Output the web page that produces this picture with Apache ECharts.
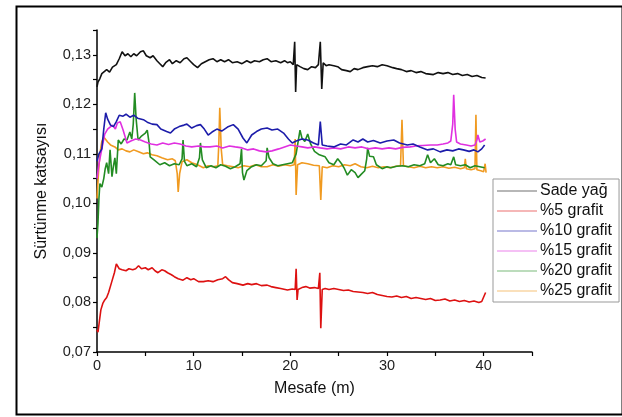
<!DOCTYPE html>
<html><head><meta charset="utf-8">
<script src="https://cdn.jsdelivr.net/npm/echarts@6/dist/echarts.min.js"></script>
<style>html,body{margin:0;padding:0;background:#fff}#c{width:622px;height:417px}</style>
</head><body><div id="c"></div>
<script>
const seriesNames = ['Sade yağ', '%5 grafit', '%10 grafit', '%15 grafit', '%20 grafit', '%25 grafit'];
const yTicks = [0.07, 0.08, 0.09, 0.10, 0.11, 0.12, 0.13];
const xTicks = [0, 10, 20, 30, 40];

const sadeYag = [[0,0.1235],[0.1,0.1245],[0.3,0.1252],[0.5,0.1262],[0.7,0.1258],[1,0.127],[1.3,0.1265],[1.6,0.1275],[2,0.128],[2.3,0.1292],[2.6,0.1306],[2.9,0.1298],[3.2,0.1302],[3.5,0.1296],[3.8,0.1302],[4.1,0.1298],[4.5,0.1306],[4.8,0.1308],[5.1,0.1298],[5.5,0.1294],[5.8,0.1298],[6.2,0.1288],[6.5,0.1282],[6.8,0.1276],[7.1,0.1284],[7.5,0.1290],[7.8,0.1282],[8.2,0.1288],[8.6,0.1284],[9,0.1292],[9.3,0.1294],[9.7,0.1286],[10,0.1280],[10.4,0.1274],[10.8,0.1282],[11.2,0.1286],[11.6,0.1290],[12,0.1292],[12.4,0.1286],[12.8,0.1290],[13.2,0.1286],[13.6,0.1290],[14,0.1284],[14.5,0.1286],[15,0.1282],[15.5,0.1288],[15.9,0.1284],[16.3,0.1288],[16.8,0.1286],[17.2,0.1290],[17.6,0.1292],[18,0.1286],[18.5,0.1288],[19,0.1284],[19.4,0.1288],[19.7,0.1284],[20,0.1286],[20.3,0.1280],[20.45,0.1326],[20.55,0.1225],[20.65,0.1280],[21,0.1276],[21.4,0.1272],[21.8,0.1270],[22.2,0.1276],[22.6,0.1274],[22.9,0.1280],[23.1,0.1326],[23.25,0.1231],[23.4,0.1284],[23.7,0.1278],[24,0.1280],[24.5,0.1278],[24.9,0.1276],[25.3,0.1270],[25.8,0.1268],[26.2,0.1266],[26.6,0.1272],[27,0.1270],[27.5,0.1274],[28,0.1276],[28.5,0.1278],[29,0.1276],[29.5,0.1280],[30,0.1278],[30.2,0.1280],[30.6,0.1274],[31,0.1272],[31.5,0.1270],[32,0.1266],[32.5,0.1268],[33,0.1264],[33.5,0.1266],[34,0.1262],[34.8,0.1260],[35.3,0.1264],[35.8,0.1262],[36.3,0.1264],[36.8,0.1260],[37.3,0.1262],[37.8,0.1258],[38.3,0.1260],[38.8,0.1256],[39.3,0.1258],[39.8,0.1254],[40.2,0.1253]];

const grafit5 = [[0,0.0745],[0.1,0.074],[0.2,0.0755],[0.4,0.0785],[0.6,0.0798],[0.8,0.0805],[1,0.081],[1.2,0.082],[1.5,0.084],[1.8,0.086],[2.0,0.0878],[2.1,0.088],[2.3,0.0868],[2.6,0.0866],[3,0.0864],[3.3,0.0868],[3.7,0.0866],[4,0.0868],[4.3,0.0874],[4.6,0.0868],[5,0.0870],[5.3,0.0866],[5.7,0.0870],[6,0.0864],[6.3,0.0860],[6.7,0.0866],[7,0.0864],[7.3,0.0860],[7.7,0.0856],[8,0.0852],[8.4,0.0848],[8.9,0.0845],[9.3,0.0850],[9.7,0.0846],[10,0.0848],[10.5,0.0842],[11,0.0842],[11.5,0.0844],[12,0.0842],[12.5,0.0846],[13,0.0848],[13.3,0.0852],[13.6,0.0846],[14,0.0840],[14.5,0.0838],[15.1,0.0835],[15.6,0.0838],[16,0.0836],[16.5,0.0838],[17,0.0834],[17.6,0.0835],[18,0.0832],[18.5,0.0830],[19,0.0828],[19.7,0.0825],[20.2,0.0827],[20.5,0.0826],[20.6,0.0868],[20.7,0.0805],[20.8,0.0826],[21.2,0.0830],[21.6,0.0832],[22,0.0829],[22.5,0.0830],[22.9,0.0828],[23.05,0.0860],[23.15,0.0748],[23.3,0.0826],[23.6,0.0828],[24,0.0826],[24.5,0.0828],[25,0.0826],[25.5,0.0824],[26,0.0825],[26.5,0.0822],[27,0.0821],[27.5,0.0820],[28,0.0818],[28.5,0.0820],[29,0.0816],[29.5,0.0814],[30,0.0812],[30.5,0.0811],[31,0.0813],[31.5,0.0810],[32,0.0812],[32.5,0.0808],[33,0.0810],[33.5,0.0808],[34,0.0806],[34.5,0.0808],[35,0.0804],[35.5,0.0805],[36,0.0807],[36.5,0.0803],[37,0.0805],[37.5,0.0802],[38,0.0804],[38.5,0.0801],[39,0.0803],[39.5,0.0800],[39.8,0.0802],[40.2,0.0820]];

const grafit10 = [[0,0.1085],[0.2,0.1100],[0.5,0.1110],[0.7,0.1150],[0.9,0.1183],[1.1,0.1170],[1.4,0.1158],[1.7,0.1155],[2,0.1165],[2.3,0.1178],[2.7,0.1176],[3,0.1180],[3.4,0.1174],[3.8,0.1178],[4.2,0.1172],[4.8,0.1169],[5.2,0.1164],[5.7,0.1160],[6.2,0.1159],[6.6,0.1150],[7.2,0.1145],[7.6,0.1142],[8,0.1150],[8.5,0.1155],[9,0.1158],[9.3,0.1160],[9.8,0.1152],[10.3,0.1157],[10.7,0.1159],[11.1,0.1150],[11.5,0.1138],[11.9,0.1144],[12.4,0.1150],[12.9,0.1146],[13.5,0.1154],[14.1,0.1159],[14.6,0.1150],[15.1,0.1132],[15.5,0.1122],[16,0.1138],[16.5,0.1145],[17,0.1150],[17.6,0.1152],[18.1,0.1148],[18.7,0.1150],[19.3,0.1142],[19.8,0.1130],[20.2,0.1122],[20.6,0.1126],[21.2,0.1130],[21.8,0.1128],[22.4,0.1122],[22.9,0.1118],[23.1,0.1165],[23.3,0.1118],[23.8,0.1116],[24.5,0.1114],[25.2,0.1120],[25.8,0.1118],[26.5,0.1128],[27,0.1124],[27.5,0.1130],[28,0.1124],[28.6,0.1127],[29.3,0.1122],[30,0.1126],[30.7,0.1128],[31.3,0.1122],[32.1,0.1118],[32.7,0.1120],[33.4,0.1114],[34.2,0.1108],[34.8,0.1110],[35.5,0.1104],[36.2,0.1108],[36.8,0.1106],[37.4,0.1110],[37.9,0.1108],[38.5,0.1105],[39,0.1108],[39.4,0.1104],[39.8,0.1110],[40.1,0.1118]];

const grafit15 = [[0,0.1050],[0.2,0.1080],[0.5,0.1110],[0.8,0.1140],[1.1,0.1150],[1.3,0.1152],[1.6,0.1158],[1.9,0.1150],[2.1,0.1162],[2.4,0.1165],[2.7,0.1148],[3.1,0.1122],[3.5,0.1126],[4,0.1130],[4.5,0.1128],[5,0.1124],[5.6,0.1120],[6.2,0.1118],[6.8,0.1122],[7.4,0.1119],[8,0.1122],[8.6,0.1120],[9.2,0.1116],[9.8,0.1114],[10.5,0.1116],[11.1,0.1114],[11.7,0.1114],[12.4,0.1116],[13,0.1112],[13.7,0.1116],[14.3,0.1114],[15,0.1112],[15.6,0.1108],[16.2,0.1110],[16.8,0.1106],[17.5,0.1104],[18.1,0.1106],[18.8,0.1110],[19.4,0.1114],[20,0.1118],[20.6,0.1116],[21.2,0.1114],[21.8,0.1112],[22.5,0.1114],[23.1,0.1112],[23.8,0.1110],[24.5,0.1112],[25.2,0.1110],[26,0.1114],[26.7,0.1112],[27.4,0.1114],[28.1,0.1110],[28.8,0.1112],[29.5,0.1110],[30.2,0.1112],[30.9,0.1110],[31.6,0.1113],[32.4,0.1114],[33,0.1116],[33.7,0.1117],[34.5,0.1118],[35.2,0.1118],[35.8,0.1120],[36.3,0.1122],[36.6,0.1126],[36.8,0.1160],[36.9,0.1219],[37.05,0.1150],[37.2,0.1124],[37.6,0.1120],[38.2,0.1118],[38.7,0.1116],[39.1,0.1118],[39.3,0.1128],[39.4,0.1138],[39.6,0.1124],[39.9,0.1126],[40.2,0.1130]];

const grafit20 = [[0,0.0930],[0.1,0.0960],[0.2,0.1010],[0.3,0.1040],[0.5,0.1033],[0.7,0.1050],[0.85,0.1070],[1,0.1082],[1.2,0.1060],[1.35,0.1108],[1.55,0.1054],[1.7,0.1075],[1.85,0.1092],[2,0.1060],[2.2,0.1128],[2.5,0.1120],[2.8,0.1130],[3.1,0.1128],[3.4,0.1144],[3.6,0.1130],[3.75,0.1160],[3.9,0.1223],[4.05,0.1170],[4.25,0.1128],[4.6,0.1136],[5,0.1142],[5.2,0.1148],[5.4,0.1120],[5.5,0.1094],[5.9,0.1088],[6.5,0.1078],[7,0.1082],[7.5,0.1076],[8,0.1080],[8.5,0.1078],[8.8,0.1090],[8.9,0.1128],[9.05,0.1085],[9.3,0.1076],[9.8,0.1080],[10.3,0.1074],[10.6,0.1092],[10.7,0.1122],[10.9,0.1088],[11.3,0.1072],[11.8,0.1076],[12.3,0.1072],[12.8,0.1078],[13.3,0.1075],[13.8,0.1070],[14.3,0.1074],[14.8,0.1080],[14.95,0.1110],[15.05,0.1062],[15.2,0.1047],[15.5,0.1066],[16,0.1074],[16.5,0.1078],[17,0.1076],[17.5,0.1086],[17.6,0.1112],[17.8,0.1092],[18.2,0.1080],[18.7,0.1076],[19.2,0.1078],[19.7,0.1080],[20.2,0.1082],[20.6,0.1100],[21,0.1148],[21.2,0.1132],[21.5,0.1125],[21.8,0.1140],[22.1,0.1120],[22.5,0.1105],[23,0.1098],[23.6,0.1094],[24,0.1082],[24.5,0.1078],[24.9,0.1090],[25.3,0.1080],[25.6,0.1070],[25.9,0.1057],[26.3,0.1068],[26.7,0.1062],[27,0.1052],[27.3,0.1058],[27.7,0.1066],[27.9,0.1090],[28,0.1112],[28.2,0.1095],[28.6,0.1094],[28.9,0.1078],[29.5,0.1070],[30,0.1074],[30.4,0.1072],[31,0.1075],[31.6,0.1076],[32.2,0.1074],[32.8,0.1078],[33.4,0.1076],[33.9,0.1080],[34.2,0.1098],[34.5,0.1082],[34.9,0.1090],[35.3,0.1078],[35.8,0.1076],[36.3,0.1080],[36.6,0.1078],[36.9,0.1094],[37.1,0.1078],[37.6,0.1076],[38.1,0.1078],[38.6,0.1072],[39.1,0.1076],[39.6,0.1074],[40.1,0.1072]];

const grafit25 = [[0,0.1010],[0.15,0.1060],[0.3,0.1100],[0.5,0.1125],[0.7,0.1134],[0.9,0.1135],[1.1,0.1124],[1.4,0.1118],[1.85,0.1114],[2.2,0.1108],[2.6,0.1110],[3,0.1106],[3.4,0.1104],[3.8,0.1108],[4.3,0.1104],[4.8,0.1100],[5.2,0.1102],[5.7,0.1098],[6.2,0.1096],[6.7,0.1092],[7.3,0.1088],[7.8,0.1090],[8.1,0.1086],[8.3,0.1060],[8.4,0.1023],[8.55,0.1060],[8.8,0.1084],[9.3,0.1088],[9.8,0.1082],[10.4,0.1078],[11,0.1072],[11.5,0.1076],[12,0.1074],[12.5,0.1076],[12.6,0.1120],[12.7,0.1193],[12.85,0.1110],[13,0.1078],[13.5,0.1076],[14.1,0.1074],[14.6,0.1072],[15.2,0.1076],[15.8,0.1074],[16.4,0.1078],[17,0.1074],[17.6,0.1074],[18.2,0.1078],[18.8,0.1075],[19.4,0.1078],[20,0.1076],[20.4,0.1078],[20.5,0.1130],[20.6,0.1017],[20.75,0.1078],[21.2,0.1082],[21.8,0.1080],[22.4,0.1077],[23,0.1076],[23.15,0.1007],[23.3,0.1074],[23.8,0.1072],[24.4,0.1076],[25,0.1074],[25.6,0.1078],[26.2,0.1076],[26.7,0.1080],[27.3,0.1074],[27.9,0.1072],[28.5,0.1075],[29.1,0.1072],[29.7,0.1074],[30.3,0.1072],[30.9,0.1075],[31.4,0.1076],[31.55,0.1169],[31.7,0.1076],[32.2,0.1074],[32.8,0.1072],[33.4,0.1075],[34,0.1072],[34.6,0.1074],[35.2,0.1072],[35.8,0.1074],[36.4,0.1071],[37,0.1073],[37.6,0.1070],[38,0.1072],[38.1,0.1090],[38.2,0.1070],[38.7,0.1068],[39.1,0.1070],[39.2,0.1179],[39.3,0.1068],[39.7,0.1066],[40,0.1064],[40.15,0.1080],[40.25,0.1062]];

const seriesData = [sadeYag, grafit5, grafit10, grafit15, grafit20, grafit25];
const colors = ['#111111', '#dd1111', '#1c1caa', '#e030e0', '#238c23', '#f09a20'];

const chart = echarts.init(document.getElementById('c'), null, {renderer: 'canvas'});
const font = '"Liberation Sans", Arial, sans-serif';
const isOn = (v, step) => Math.abs(v / step - Math.round(v / step)) < 1e-6;

chart.setOption({
  animation: false,
  backgroundColor: '#fff',
  grid: {left: 97, top: 30, width: 435, height: 322, containLabel: false},
  legend: {
    orient: 'vertical', left: 493, top: 179,
    data: seriesNames.map(n => ({name: n, icon: 'path://M0,0L40,0L40,1.2L0,1.2Z'})),
    itemWidth: 40, itemHeight: 1.2, itemGap: 2,
    padding: [3, 7, 2, 4],
    backgroundColor: '#fff', borderColor: '#999', borderWidth: 1,
    textStyle: {fontFamily: font, fontSize: 16, lineHeight: 18, color: '#111', padding: [0, 0, 0, -2]},
    itemStyle: {opacity: 0.6}
  },
  xAxis: {
    type: 'value', min: 0, max: 45, interval: 5,
    name: 'Mesafe (m)', nameLocation: 'middle', nameGap: 29,
    nameTextStyle: {fontFamily: font, fontSize: 16, color: '#111'},
    axisLine: {lineStyle: {color: '#000', width: 1.5}},
    axisTick: {show: true, inside: false, length: 4, lineStyle: {color: '#000', width: 1.2}},
    axisLabel: {fontFamily: font, fontSize: 14.5, color: '#222', margin: 6,
      formatter: v => (isOn(v, 10) && xTicks.includes(Math.round(v))) ? String(Math.round(v)) : ''},
    splitLine: {show: false}
  },
  yAxis: {
    type: 'value', min: 0.07, max: 0.135, interval: 0.005,
    name: 'Sürtünme katsayısı', nameLocation: 'middle', nameGap: 47,
    nameTextStyle: {fontFamily: font, fontSize: 16, color: '#111'},
    axisLine: {show: true, lineStyle: {color: '#000', width: 1.5}},
    axisTick: {show: true, inside: false, length: 4, lineStyle: {color: '#000', width: 1.2}},
    axisLabel: {fontFamily: font, fontSize: 14.5, color: '#222', margin: 6,
      formatter: v => {
        const t = yTicks.find(k => Math.abs(k - v) < 1e-6);
        return t === undefined ? '' : t.toFixed(2).replace('.', ',');
      }},
    splitLine: {show: false}
  },
  graphic: [{
    type: 'rect', left: 14, top: 4, z: 100, silent: true,
    shape: {width: 606, height: 408},
    style: {fill: 'none', stroke: '#000', lineWidth: 2}
  }],
  series: seriesNames.map((n, i) => ({
    name: n, type: 'line', data: seriesData[i], showSymbol: false, symbol: 'none',
    color: colors[i],
    lineStyle: {width: 1.6, color: colors[i]},
    z: 10 - i
  }))
});
</script></body></html>
